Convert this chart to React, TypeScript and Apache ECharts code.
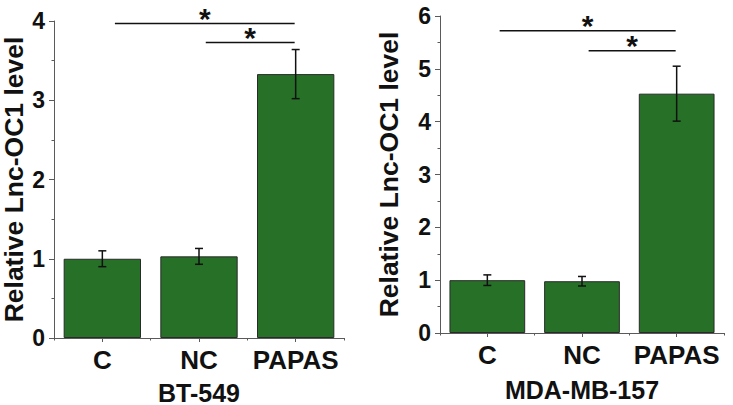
import React, { useEffect, useRef } from 'react';
import * as echarts from 'echarts';

const categories = ['C', 'NC', 'PAPAS'];

const bt549Means = [1.0, 1.03, 3.33];
const bt549Errors = [0.1, 0.1, 0.31];
const bt549YMax = 4;
const bt549Brackets = [
  { from: 'C', to: 'PAPAS', y: 3.97, label: '*' },
  { from: 'NC', to: 'PAPAS', y: 3.73, label: '*' },
];

const mdaMeans = [1.0, 0.98, 4.53];
const mdaErrors = [0.1, 0.09, 0.52];
const mdaYMax = 6;
const mdaBrackets = [
  { from: 'C', to: 'PAPAS', y: 5.72, label: '*' },
  { from: 'NC', to: 'PAPAS', y: 5.34, label: '*' },
];

const panelTitles = ['BT-549', 'MDA-MB-157'];
const yAxisTitle = 'Relative Lnc-OC1 level';

const FONT = '"Liberation Sans", Arial, Helvetica, sans-serif';
const AXIS_COLOR = '#5a5a5a';
const BAR_COLOR = '#277027';
const INK = '#111111';
const bracketInsets = [0.13, 0.07];

function errorBarSeries(means: number[], errs: number[], xi: number) {
  return {
    type: 'custom',
    xAxisIndex: xi,
    yAxisIndex: xi / 2,
    z: 5,
    clip: false,
    encode: { x: 0, y: 1 },
    data: categories.map((c, i) => [c, means[i], errs[i]]),
    renderItem: (params: any, api: any) => {
      const x = api.value(0);
      const m = api.value(1);
      const e = api.value(2);
      const top = api.coord([x, m + e]);
      const bot = api.coord([x, m - e]);
      const hw = 4;
      const st = { stroke: INK, lineWidth: 1.5 };
      return {
        type: 'group',
        children: [
          { type: 'line', shape: { x1: top[0], y1: top[1], x2: bot[0], y2: bot[1] }, style: st },
          { type: 'line', shape: { x1: top[0] - hw, y1: top[1], x2: top[0] + hw, y2: top[1] }, style: st },
          { type: 'line', shape: { x1: bot[0] - hw, y1: bot[1], x2: bot[0] + hw, y2: bot[1] }, style: st },
        ],
      };
    },
  };
}

function bracketSeries(brackets: any[], xi: number) {
  return {
    type: 'custom',
    xAxisIndex: xi,
    yAxisIndex: xi / 2,
    z: 6,
    clip: false,
    encode: { x: [0, 1], y: 2 },
    data: brackets.map((b) => [b.from, b.to, b.y]),
    renderItem: (params: any, api: any) => {
      const band = api.size([1, 0])[0];
      const a = api.coord([api.value(0), api.value(2)]);
      const b = api.coord([api.value(1), api.value(2)]);
      const x1 = a[0] + band * bracketInsets[params.dataIndex];
      const x2 = b[0] - 1;
      const y = a[1];
      return {
        type: 'group',
        children: [
          { type: 'line', shape: { x1, y1: y, x2, y2: y }, style: { stroke: INK, lineWidth: 1.5 } },
          {
            type: 'text',
            style: {
              text: brackets[params.dataIndex].label,
              x: (x1 + x2) / 2,
              y: y - 5,
              align: 'center',
              verticalAlign: 'middle',
              fontSize: 30,
              fontWeight: 'bold',
              fontFamily: FONT,
              fill: INK,
            },
          },
        ],
      };
    },
  };
}

function xAxes(gridIndex: number, title: string, nameGap: number) {
  return [
    {
      type: 'category',
      gridIndex,
      position: 'bottom',
      data: categories,
      boundaryGap: true,
      name: title,
      nameLocation: 'middle',
      nameGap,
      nameMoveOverlap: false,
      nameTextStyle: { fontSize: 25, lineHeight: 25, fontWeight: 'bold', fontFamily: FONT, color: INK },
      axisLine: { show: true, lineStyle: { color: AXIS_COLOR, width: 1 } },
      axisTick: { show: true, alignWithLabel: true, length: 4, lineStyle: { color: AXIS_COLOR } },
      axisLabel: {
        interval: 0,
        hideOverlap: false,
        fontSize: 26,
        fontWeight: 'bold',
        fontFamily: FONT,
        color: INK,
        margin: 9,
      },
      splitLine: { show: false },
    },
    {
      type: 'category',
      gridIndex,
      position: 'bottom',
      data: categories,
      boundaryGap: true,
      axisLine: { show: false },
      axisTick: { show: true, alignWithLabel: false, interval: 0, length: 2.5, lineStyle: { color: AXIS_COLOR } },
      axisLabel: { show: false },
      splitLine: { show: false },
    },
  ];
}

function yAxis(gridIndex: number, max: number, nameGap: number) {
  return {
    type: 'value',
    gridIndex,
    min: 0,
    max,
    interval: 1,
    name: yAxisTitle,
    nameLocation: 'middle',
    nameGap,
    nameRotate: 90,
    nameMoveOverlap: false,
    nameTextStyle: { fontSize: 26.5, fontWeight: 'bold', fontFamily: FONT, color: INK },
    axisLine: { show: true, lineStyle: { color: AXIS_COLOR, width: 1 } },
    axisTick: { show: true, length: 5, lineStyle: { color: AXIS_COLOR } },
    minorTick: { show: true, splitNumber: 2, length: 2.5, lineStyle: { color: AXIS_COLOR } },
    axisLabel: { fontSize: 23, fontWeight: 'bold', fontFamily: FONT, color: INK, margin: 9 },
    splitLine: { show: false },
    minorSplitLine: { show: false },
  };
}

function barSeries(means: number[], xi: number) {
  return {
    type: 'bar',
    xAxisIndex: xi,
    yAxisIndex: xi / 2,
    barCategoryGap: '20%',
    data: means,
    itemStyle: { color: BAR_COLOR, borderColor: '#2a2a2a', borderWidth: 1 },
    z: 2,
  };
}

export default function App() {
  const ref = useRef<HTMLDivElement>(null);
  useEffect(() => {
    if (!ref.current) return;
    const chart = echarts.init(ref.current, null, { renderer: 'svg' });
    chart.setOption({
      animation: false,
      backgroundColor: '#ffffff',
      textStyle: { fontFamily: FONT },
      grid: [
        { left: 54, top: 21, width: 290, height: 317, containLabel: false, outerBoundsMode: 'none' },
        { left: 440, top: 16, width: 284, height: 317, containLabel: false, outerBoundsMode: 'none' },
      ],
      xAxis: [...xAxes(0, panelTitles[0], 42), ...xAxes(1, panelTitles[1], 44)],
      yAxis: [yAxis(0, bt549YMax, 27), yAxis(1, mdaYMax, 38)],
      series: [
        barSeries(bt549Means, 0),
        errorBarSeries(bt549Means, bt549Errors, 0),
        bracketSeries(bt549Brackets, 0),
        barSeries(mdaMeans, 2),
        errorBarSeries(mdaMeans, mdaErrors, 2),
        bracketSeries(mdaBrackets, 2),
      ],
    });
    return () => chart.dispose();
  }, []);
  return (
    <div
      ref={ref}
      style={{ position: 'fixed', left: 0, top: 0, width: 733, height: 405, background: '#fff' }}
    />
  );
}
